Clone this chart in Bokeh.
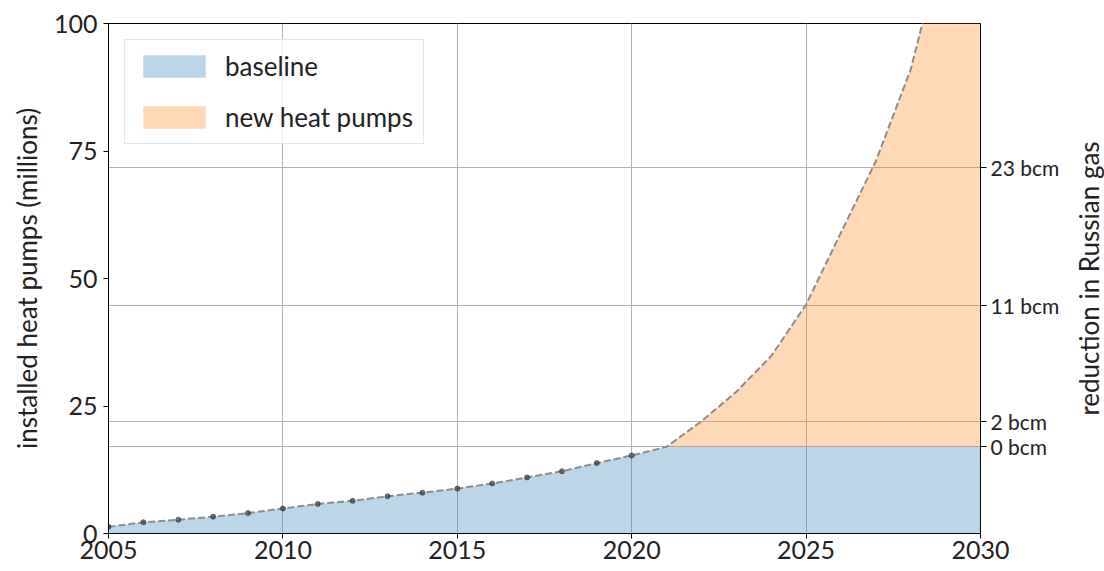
from bokeh.plotting import figure
from bokeh.layouts import row
from bokeh.models import Range1d, LinearAxis, FixedTicker, Legend, LegendItem, Title
from bokeh.embed import file_html
from bokeh.resources import INLINE
import numpy as np

# ---- data ----
hist_years = list(range(2005, 2021))
hist_values = [1.3, 2.2, 2.7, 3.3, 4.0, 4.9, 5.8, 6.4, 7.3, 8.0, 8.8, 9.8, 11.0, 12.2, 13.8, 15.3]
proj_years = list(range(2021, 2031))
proj_values = [17.0, 22.0, 27.8, 34.8, 44.9, 59.0, 73.0, 91.0, 118.0, 150.0]
baseline_level = 17.0
gas_positions = [17.06, 21.96, 44.7, 71.8]
gas_labels = ["0 bcm", "2 bcm", "11 bcm", "23 bcm"]
left_ticks = [0, 25, 50, 75, 100]
year_ticks = [2005, 2010, 2015, 2020, 2025, 2030]

years = np.array(hist_years + proj_years, dtype=float)
values = np.array(hist_values + proj_values, dtype=float)
base = np.minimum(values, baseline_level)
proj_x = np.array(proj_years, dtype=float)
proj_y = np.array(proj_values, dtype=float)

FONT = "Lato"
TXT = "#222222"

p = figure(width=1070, height=570, output_backend="svg", toolbar_location=None,
           x_range=Range1d(2005, 2030), y_range=Range1d(0, 100),
           min_border_left=108, min_border_top=23, min_border_right=90, min_border_bottom=37)

p.outline_line_color = "black"
p.outline_line_width = 1
p.background_fill_color = "white"

blue = p.varea(x=years, y1=np.zeros_like(years), y2=base, fill_color="#1f77b4", fill_alpha=0.3)
orange = p.varea(x=proj_x, y1=np.full_like(proj_x, baseline_level), y2=proj_y,
                 fill_color="#ff7f0e", fill_alpha=0.3)
p.line(years, values, line_color="#8c8c8c", line_width=2, line_dash="7 3")
p.scatter(hist_years, hist_values, size=5, fill_color="#333333", line_color="#333333", alpha=0.65)

# axes
for ax in (p.xaxis[0], p.yaxis[0]):
    ax.axis_line_color = "black"
    ax.major_tick_line_color = "black"
    ax.major_tick_out = 5
    ax.major_tick_in = 0
    ax.minor_tick_line_color = None
    ax.major_label_text_font = FONT
    ax.major_label_text_font_size = "25px"
    ax.major_label_text_color = TXT

p.xaxis.ticker = FixedTicker(ticks=year_ticks)
p.xaxis.major_label_standoff = 2
p.yaxis.ticker = FixedTicker(ticks=left_ticks)
p.yaxis.major_label_standoff = 6
p.yaxis.axis_label = "installed heat pumps (millions)"
p.yaxis.axis_label_text_font = FONT
p.yaxis.axis_label_text_font_size = "26px"
p.yaxis.axis_label_text_font_style = "normal"
p.yaxis.axis_label_text_color = TXT
p.yaxis.axis_label_standoff = 8

right = LinearAxis(ticker=FixedTicker(ticks=gas_positions),
                   major_label_overrides={pos: lab for pos, lab in zip(gas_positions, gas_labels)})
right.axis_line_color = "black"
right.major_tick_line_color = "black"
right.major_tick_out = 6
right.major_tick_in = 0
right.minor_tick_line_color = None
right.major_label_text_font = FONT
right.major_label_text_font_size = "21px"
right.major_label_text_color = TXT
right.major_label_standoff = 4
p.add_layout(right, "right")

# grid
p.xgrid.ticker = FixedTicker(ticks=year_ticks)
p.ygrid.ticker = FixedTicker(ticks=gas_positions)
for g in (p.xgrid[0], p.ygrid[0]):
    g.grid_line_color = "#b0b0b0"
    g.grid_line_width = 1

legend = Legend(items=[LegendItem(label="baseline", renderers=[blue]),
                       LegendItem(label="new heat pumps", renderers=[orange])],
                location="top_left")
legend.margin = 16
legend.padding = 10
legend.spacing = 19
legend.glyph_width = 78
legend.glyph_height = 28
legend.label_height = 28
legend.label_standoff = 12
legend.label_text_font = FONT
legend.label_text_font_size = "26px"
legend.label_text_color = TXT
legend.border_line_color = "#cccccc"
legend.border_line_width = 1
legend.background_fill_alpha = 0.8
p.add_layout(legend, "center")

# narrow companion figure carrying the right-hand axis title (reads bottom-to-top)
p2 = figure(width=34, height=570, output_backend="svg", toolbar_location=None,
            x_range=Range1d(0, 1), y_range=Range1d(0, 1),
            x_axis_location=None, y_axis_location=None,
            min_border_left=0, min_border_right=0, min_border_top=23, min_border_bottom=37)
p2.outline_line_color = None
p2.grid.visible = False
p2.add_layout(Title(text="reduction in Russian gas", align="center",
                    text_font=FONT, text_font_size="26px", text_font_style="normal",
                    text_color=TXT, standoff=0, offset=0), "left")

layout = row(p, p2)
open("out.html", "w").write(file_html(layout, INLINE))
